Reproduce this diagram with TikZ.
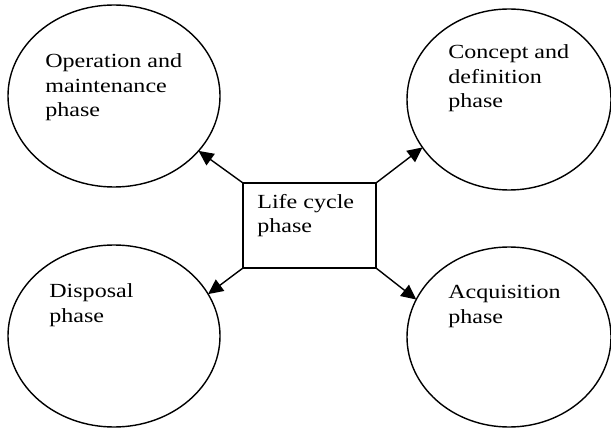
\documentclass[tikz,border=0pt]{standalone}
\usepackage{fontspec}
\setmainfont[FakeStretch=1.2]{Liberation Serif}
\usetikzlibrary{shapes.geometric,arrows.meta}
\definecolor{CLN}{RGB}{0,0,0}

\begin{document}
\begin{tikzpicture}[
    font=\fontsize{11.4pt}{14.2pt}\selectfont,
    phase/.style={draw=CLN,ellipse,line width=0.8pt,inner sep=0pt,outer sep=0pt},
    phasetext/.style={anchor=base west,align=left,inner sep=0pt},
    hub/.style={draw=CLN,rectangle,line width=0.8pt,inner sep=0pt,outer sep=0pt},
    link/.style={draw=CLN,line width=0.8pt,-{Triangle[length=8.5pt,width=8pt]}}]
  \useasboundingbox (0.0000cm,0.0000cm) rectangle (12.2200cm,8.6000cm);
  % — phase ellipses
  \node[phase,minimum width=4.2400cm,minimum height=3.6400cm] (opm) at (2.2800cm,6.6800cm) {};
  \node[phase,minimum width=4.0800cm,minimum height=3.6200cm] (cdp) at (10.1800cm,6.6100cm) {};
  \node[phase,minimum width=4.2400cm,minimum height=3.6400cm] (dsp) at (2.2800cm,1.8800cm) {};
  \node[phase,minimum width=4.0800cm,minimum height=3.6000cm] (acq) at (10.1800cm,1.8600cm) {};
  % base anchor sits on the last line
  \node[phasetext] (opmtxt) at (0.9000cm,6.2600cm) {Operation and\\maintenance\\phase};
  \node[phasetext] (cdptxt) at (8.9600cm,6.4400cm) {Concept and\\definition\\phase};
  \node[phasetext] (dsptxt) at (0.9800cm,2.1600cm) {Disposal\\phase};
  \node[phasetext] (acqtxt) at (8.9600cm,2.1400cm) {Acquisition\\phase};
  % — centre box
  \node[hub,minimum width=2.6600cm,minimum height=1.7000cm] (lcp) at (6.1900cm,4.0900cm) {};
  \node[phasetext] (lcptxt) at (5.1400cm,3.9400cm) {Life cycle\\phase};
  % — arrows
  \draw[link] (lcp.north west) -- (opm.-33);
  \draw[link] (lcp.north east) -- (cdp.-151);
  \draw[link] (lcp.south west) -- (dsp.24);
  \draw[link] (lcp.south east) -- (acq.158);
\end{tikzpicture}
\end{document}
